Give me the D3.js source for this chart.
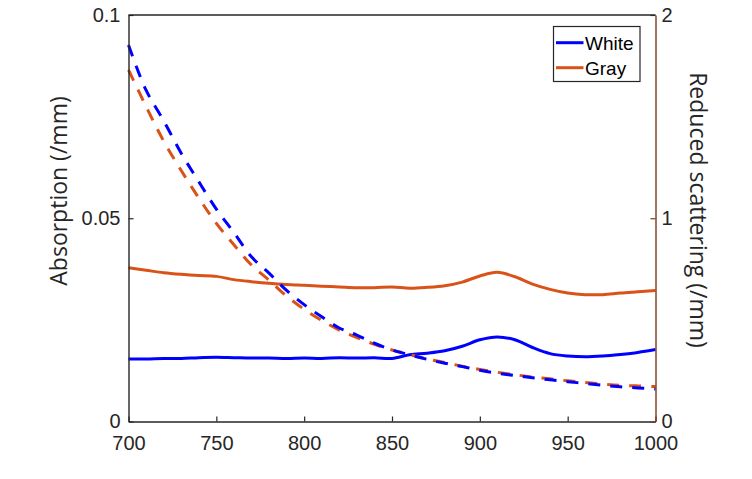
<!DOCTYPE html>
<html><head><meta charset="utf-8">
<script src="https://cdn.jsdelivr.net/npm/d3@7"></script>
<style>body{margin:0;background:#fff}svg{display:block}</style>
</head><body><svg id="c" width="752" height="479"></svg>
<script>
const wavelengths = [700,710,720,730,740,750,760,770,780,790,800,810,820,830,840,850,860,870,880,890,900,910,920,930,940,950,960,970,980,990,1000];
const whiteAbs = [0.0154,0.0154,0.0155,0.0155,0.0157,0.0158,0.0157,0.0156,0.0156,0.0155,0.0156,0.0155,0.0157,0.0156,0.0157,0.0155,0.0164,0.0168,0.0174,0.0185,0.0201,0.0208,0.0201,0.0182,0.0167,0.0161,0.0159,0.0161,0.0165,0.0170,0.0177];
const grayAbs = [0.0378,0.0372,0.0366,0.0362,0.0359,0.0357,0.0349,0.0344,0.0340,0.0337,0.0335,0.0333,0.0331,0.0329,0.0329,0.0331,0.0328,0.0330,0.0334,0.0343,0.0358,0.0367,0.0356,0.0338,0.0325,0.0316,0.0312,0.0312,0.0316,0.0319,0.0322];
const whiteScat = [1.852,1.63,1.48,1.32,1.18,1.045,0.93,0.81,0.73,0.645,0.575,0.515,0.46,0.425,0.385,0.352,0.328,0.306,0.287,0.27,0.252,0.238,0.226,0.215,0.205,0.196,0.187,0.178,0.171,0.165,0.16];
const grayScat = [1.73,1.55,1.38,1.235,1.10,0.975,0.87,0.77,0.695,0.617,0.552,0.497,0.45,0.413,0.38,0.352,0.33,0.308,0.29,0.272,0.256,0.242,0.23,0.219,0.21,0.2,0.192,0.184,0.178,0.175,0.172];
const xTicks = [700,750,800,850,900,950,1000];
const leftTicks = [0,0.05,0.1];
const leftTickLabels = ["0","0.05","0.1"];
const rightTicks = [0,1,2];
const rightTickLabels = ["0","1","2"];
const seriesNames = ["White","Gray"];
const seriesColors = ["#0000ff","#d95319"];

const L=128.5, R=655.5, T=15, B=421.5;
const svg = d3.select("#c");
const x = d3.scaleLinear().domain([700,1000]).range([L,R]);
const yL = d3.scaleLinear().domain([0,0.1]).range([B,T]);
const yR = d3.scaleLinear().domain([0,2]).range([B,T]);
const axCol = "#262626", rCol = "#7a3a1a";
const tickFont = "'Liberation Sans', Arial, sans-serif";

function line(ys, scale){
  return d3.line().curve(d3.curveCatmullRom.alpha(0.5)).x((d,i)=>x(wavelengths[i])).y(d=>scale(d))(ys);
}
const g = svg.append("g");
g.append("path").attr("d",line(whiteAbs,yL)).attr("fill","none").attr("stroke",seriesColors[0]).attr("stroke-width",3).attr("stroke-linejoin","round");
g.append("path").attr("d",line(grayAbs,yL)).attr("fill","none").attr("stroke",seriesColors[1]).attr("stroke-width",3).attr("stroke-linejoin","round");
g.append("path").attr("d",line(grayScat,yR)).attr("fill","none").attr("stroke",seriesColors[1]).attr("stroke-width",3).attr("stroke-dasharray","12,10");
g.append("path").attr("d",line(whiteScat,yR)).attr("fill","none").attr("stroke",seriesColors[0]).attr("stroke-width",3).attr("stroke-dasharray","12,10");

const xa = svg.append("g").attr("transform",`translate(0,${B})`).call(d3.axisBottom(x).tickValues(xTicks).tickFormat(d=>String(d)).tickSizeInner(-5).tickSizeOuter(0).tickPadding(14));
const la = svg.append("g").attr("transform",`translate(${L},0)`).call(d3.axisLeft(yL).tickValues(leftTicks).tickFormat((d,i)=>leftTickLabels[i]).tickSizeInner(-5).tickSizeOuter(0).tickPadding(8));
const ra = svg.append("g").attr("transform",`translate(${R},0)`).call(d3.axisRight(yR).tickValues(rightTicks).tickFormat((d,i)=>rightTickLabels[i]).tickSizeInner(-5).tickSizeOuter(0).tickPadding(6));
[xa,la].forEach(a=>{a.select(".domain").attr("stroke",axCol).attr("stroke-width",1.4);a.selectAll(".tick line").attr("stroke",axCol).attr("stroke-width",1.2);});
ra.select(".domain").attr("stroke",rCol).attr("stroke-width",1.4);
ra.selectAll(".tick line").attr("stroke",rCol).attr("stroke-width",1.2);
[xa,la,ra].forEach(a=>a.selectAll(".tick text").attr("fill",axCol).style("font-family",tickFont).style("font-size","20px"));
svg.append("line").attr("x1",L).attr("x2",R).attr("y1",T).attr("y2",T).attr("stroke",axCol).attr("stroke-width",1.4);

const labFont = "'Open Sans', sans-serif";
svg.append("text").attr("transform","translate(67,191) rotate(-90)").attr("text-anchor","middle").style("font-family",labFont).style("font-size","23px").attr("fill",axCol).text("Absorption (/mm)");
svg.append("text").attr("transform","translate(690,210) rotate(90)").attr("text-anchor","middle").style("font-family",labFont).style("font-size","23px").attr("fill",axCol).text("Reduced scattering (/mm)");

const lg = svg.append("g");
lg.append("rect").attr("x",553.5).attr("y",26.5).attr("width",86.5).attr("height",55).attr("fill","#fff").attr("stroke",axCol).attr("stroke-width",1.2);
seriesNames.forEach((n,i)=>{
  const yy = 42.7 + i*25;
  lg.append("line").attr("x1",556).attr("x2",583.5).attr("y1",yy).attr("y2",yy).attr("stroke",seriesColors[i]).attr("stroke-width",3);
  lg.append("text").attr("x",585).attr("y",yy+6.8).style("font-family",tickFont).style("font-size","19px").attr("fill","#000").text(n);
});
</script></body></html>
